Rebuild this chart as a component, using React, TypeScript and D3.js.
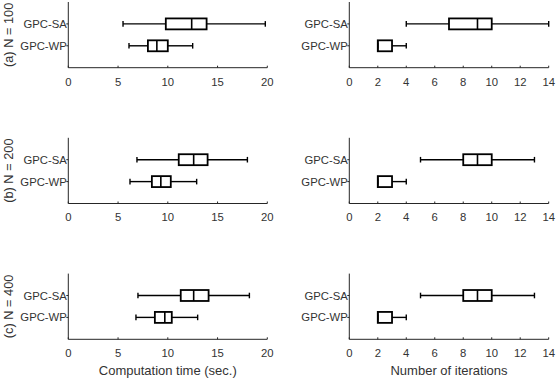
import * as d3 from 'd3';

// categories and tick labels
const groups = ['GPC-SA', 'GPC-WP'];
const panelLabels = ['(a) N = 100', '(b) N = 200', '(c) N = 400'];
const timeTicks = [0, 5, 10, 15, 20];
const iterTicks = [0, 2, 4, 6, 8, 10, 12, 14];

// five-number summaries per panel: [lower whisker, q1, median, q3, upper whisker]
const timeSA = [
    [5.5, 9.8, 12.4, 13.9, 19.8],
    [6.9, 11.1, 12.6, 14.0, 18.0],
    [7.0, 11.3, 12.6, 14.1, 18.2],
];
const timeWP = [
    [6.1, 8.0, 8.9, 10.0, 12.5],
    [6.2, 8.4, 9.3, 10.3, 12.9],
    [6.8, 8.7, 9.7, 10.4, 13.0],
];
const iterSA = [
    [4, 7, 9, 10, 14],
    [5, 8, 9, 10, 13],
    [5, 8, 9, 10, 13],
];
const iterWP = [
    [2, 2, 2, 3, 4],
    [2, 2, 2, 3, 4],
    [2, 2, 2, 3, 4],
];

const width = 560,
    height = 382;
const font = '"Liberation Sans", Arial, sans-serif';
const axisColor = '#262626';
const textColor = '#333';

const panelTop = 2,
    panelH = 65.7,
    panelStep = 135.8;

const Panel = ({ x, y, ticks, stats, label, title }) => {
    const yScale = d3.scaleLinear().domain([0, 3]).range([0, panelH]);
    const half = yScale(0.25);
    const cap = 2.8;
    return (
        <g transform={`translate(0,${y})`}>
            {/* axes */}
            <line x1={x.range()[0]} x2={x.range()[0]} y1={0} y2={panelH} stroke={axisColor} strokeWidth={1} />
            <line x1={x.range()[0]} x2={x.range()[1]} y1={panelH} y2={panelH} stroke={axisColor} strokeWidth={1} />
            {ticks.map((t) => (
                <g key={t}>
                    <line x1={x(t)} x2={x(t)} y1={panelH} y2={panelH - 2} stroke={axisColor} />
                    <text x={x(t)} y={panelH + 17.8} textAnchor="middle" fontSize={11.3} fill={textColor}>
                        {t}
                    </text>
                </g>
            ))}
            {groups.map((g, i) => (
                <g key={g}>
                    <line x1={x.range()[0] - 2} x2={x.range()[0]} y1={yScale(i + 1)} y2={yScale(i + 1)} stroke={axisColor} />
                    <text x={x.range()[0] - 1.5} y={yScale(i + 1)} dy="0.36em" textAnchor="end" fontSize={11.3} fill={textColor}>
                        {g}
                    </text>
                </g>
            ))}
            {stats.map((s, i) => {
                const cy = yScale(i + 1);
                const [lo, q1, med, q3, hi] = s;
                return (
                    <g key={i} stroke="#000" fill="none">
                        <line x1={x(lo)} x2={x(q1)} y1={cy} y2={cy} strokeWidth={1.4} />
                        <line x1={x(q3)} x2={x(hi)} y1={cy} y2={cy} strokeWidth={1.4} />
                        <line x1={x(lo)} x2={x(lo)} y1={cy - cap} y2={cy + cap} strokeWidth={1.4} />
                        <line x1={x(hi)} x2={x(hi)} y1={cy - cap} y2={cy + cap} strokeWidth={1.4} />
                        <rect x={x(q1)} y={cy - half} width={x(q3) - x(q1)} height={2 * half} strokeWidth={1.8} />
                        <line x1={x(med)} x2={x(med)} y1={cy - half} y2={cy + half} strokeWidth={1.6} />
                    </g>
                );
            })}
            {label && (
                <text
                    transform={`translate(12.8,${panelH / 2}) rotate(-90)`}
                    textAnchor="middle"
                    fontSize={12.8}
                    fill={textColor}
                >
                    {label}
                </text>
            )}
            {title && (
                <text x={(x.range()[0] + x.range()[1]) / 2} y={panelH + 35.5} textAnchor="middle" fontSize={13} fill={textColor}>
                    {title}
                </text>
            )}
        </g>
    );
};

export default function App() {
    const xTime = d3.scaleLinear().domain([0, 20]).range([68.3, 267.3]);
    const xIter = d3.scaleLinear().domain([0, 14]).range([349.3, 548.7]);
    return (
        <svg
            width={width}
            height={height}
            style={{ position: 'absolute', left: 0, top: 0, background: '#fff' }}
            fontFamily={font}
        >
            {panelLabels.map((lab, p) => {
                const y = panelTop + p * panelStep;
                const last = p === panelLabels.length - 1;
                return (
                    <g key={lab}>
                        <Panel
                            x={xTime}
                            y={y}
                            ticks={timeTicks}
                            stats={[timeSA[p], timeWP[p]]}
                            label={lab}
                            title={last ? 'Computation time (sec.)' : null}
                        />
                        <Panel
                            x={xIter}
                            y={y}
                            ticks={iterTicks}
                            stats={[iterSA[p], iterWP[p]]}
                            label={null}
                            title={last ? 'Number of iterations' : null}
                        />
                    </g>
                );
            })}
        </svg>
    );
}
